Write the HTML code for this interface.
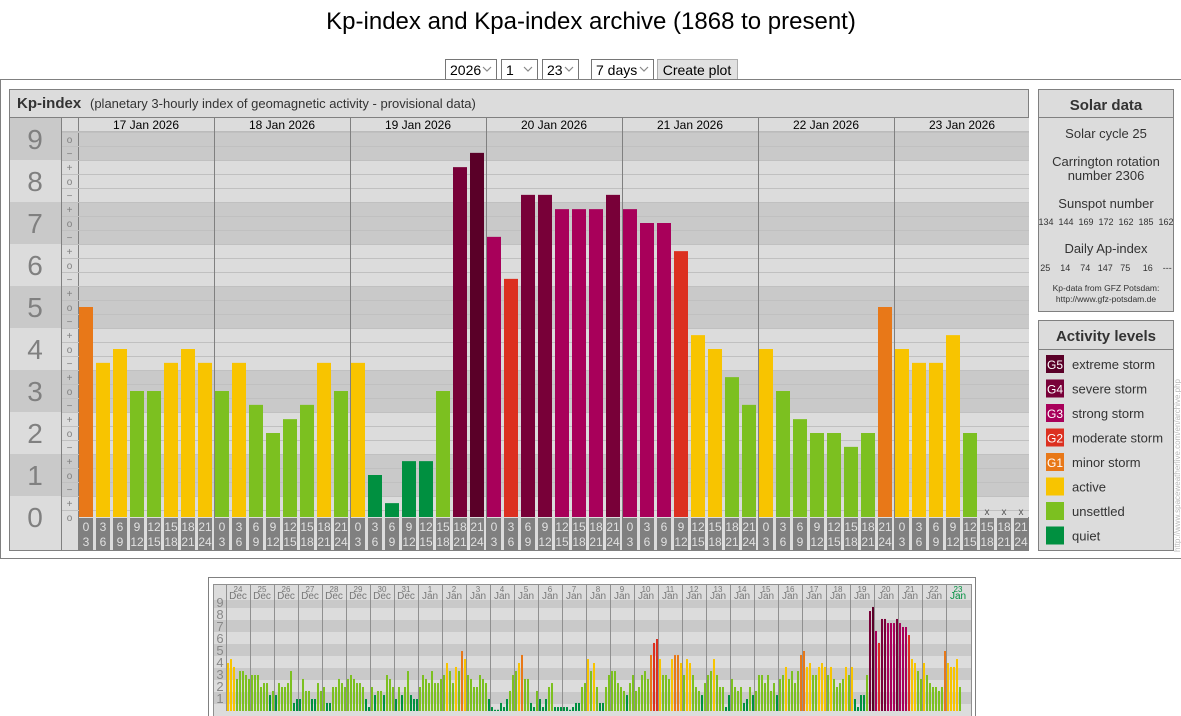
<!DOCTYPE html>
<html><head><meta charset="utf-8"><style>
html,body{margin:0;padding:0;background:#fff;width:1181px;height:716px;overflow:hidden}
svg{position:absolute;left:0;top:0}
text{font-family:"Liberation Sans",Arial,sans-serif}
</style></head><body>
<svg id="s" width="1181" height="716" xmlns="http://www.w3.org/2000/svg"></svg>
<script>
(function(){
var o=[];
function R(x,yy,w,h,f,s){o.push('<rect x="'+x+'" y="'+yy+'" width="'+w+'" height="'+h+'" fill="'+(f||'none')+'"'+(s?' stroke="'+s+'"':'')+'/>');}
function L(x1,y1,x2,y2,c){o.push('<line x1="'+x1+'" y1="'+y1+'" x2="'+x2+'" y2="'+y2+'" stroke="'+c+'" stroke-width="1"/>');}
function T(x,yy,t,sz,c,a,w,extra){o.push('<text x="'+x+'" y="'+yy+'" font-size="'+sz+'" fill="'+(c||'#000')+'" text-anchor="'+(a||'start')+'"'+(w?' font-weight="bold"':'')+(extra||'')+'>'+t+'</text>');}
function col(k){var r=Math.round(k);return r<=1?'#009040':r<=3?'#7cc020':r==4?'#f8c400':r==5?'#e87818':r==6?'#dc3020':r==7?'#a8005a':r==8?'#780038':'#5a0028';}
var DK='#c9c9c9',LT='#dcdcdc';
T(591,29,'Kp-index and Kpa-index archive (1868 to present)',24,'#000','middle');
function sel(x,w,t){R(x+.5,59.5,w,20,'#fff','#767676');T(x+5,75,t,14,'#000');o.push('<path d="M'+(x+w-13)+' 67 l4 4 l4 -4" fill="none" stroke="#888" stroke-width="1.2"/>');}
sel(445,51,'2026');sel(501,36,'1');sel(542,36,'23');sel(591,62,'7 days');
R(657.5,59.5,80,20,'#e1e1e1','#adadad');T(697,75,'Create plot',14,'#000','middle');
R(0.5,79.5,1190,479,'#fff','#808080');
R(9.5,89.5,1019,461,LT,'#808080');
L(9,117.5,1029,117.5,'#808080');
T(17,108,'Kp-index',15,'#333','start',1);
T(90,108,'(planetary 3-hourly index of geomagnetic activity - provisional data)',13,'#333');
function y(k){return 517-42*k;}
for(var Lv=0;Lv<=9;Lv++){
  var tp=y(Lv+0.5),bt=y(Lv-0.5);var c=(Lv%2==1)?DK:LT;
  var lt=Lv==9?118:tp,lb=Lv==0?550:bt;
  R(10,lt,51,lb-lt,c);
  var pt=Lv==9?131:tp,pb=Lv==0?517:bt;
  R(62,pt,967,pb-pt,c);
  T(35,y(Lv)+10,String(Lv),28,'#808080','middle');
}
R(62,118,967,13,LT);
L(61.5,118,61.5,550,'#808080');L(78.5,118,78.5,550,'#808080');
L(62,131.5,1029,131.5,'#bbb');
for(var k=0;k<=27;k++){var kv=k/3;var yy=y(kv);
  var s=k%3==0?'o':k%3==1?'+':'−';
  if(yy>=132)T(69.5,yy+4,s,10,'#808080','middle');
  var ly=Math.round(y(kv+1/6))+0.5; if(ly>132&&ly<517)L(62,ly,1029,ly,'#c0c0c0');
}
var days=['17','18','19','20','21','22','23'];
var data=[[5,3.67,4,3,3,3.67,4,3.67],[3,3.67,2.67,2,2.33,2.67,3.67,3],[3.67,1,0.33,1.33,1.33,3,8.33,8.67],[6.67,5.67,7.67,7.67,7.33,7.33,7.33,7.67],[7.33,7,7,6.33,4.33,4,3.33,2.67],[4,3,2.33,2,2,1.67,2,5],[4,3.67,3.67,4.33,2]];
var hrs=['0','3','6','9','12','15','18','21','24'];
for(var d=0;d<7;d++){var x0=78+136*d;
  if(d>0)L(x0+.5,118,x0+.5,550,'#808080');
  T(x0+68,129,days[d]+' Jan 2026',12,'#000','middle');
  for(var i=0;i<8;i++){var bx=79+136*d+17*i;
    var v=data[d][i];
    if(v!==undefined){var h=42*v;R(bx,517-h,14,h,col(v));}
    else T(bx+7,515,'x',10,'#555','middle');
    R(bx,518,14,32,'#808080');
    T(bx+7,531,hrs[i],12,'#e0e0e0','middle');T(bx+7,546,hrs[i+1],12,'#e0e0e0','middle');
  }
}
R(1038.5,89.5,135,222,LT,'#808080');L(1038,117.5,1174,117.5,'#808080');
var cx=1106;
T(cx,110,'Solar data',15,'#333','middle',1);
T(cx,138,'Solar cycle 25',13,'#333','middle');
T(cx,166,'Carrington rotation',13,'#333','middle');T(cx,180,'number 2306',13,'#333','middle');
T(cx,208,'Sunspot number',13,'#333','middle');
T(cx,225,'134  144  169  172  162  185  162',9,'#333','middle','',' xml:space="preserve"');
T(cx,253,'Daily Ap-index',13,'#333','middle');
T(cx,271,'25    14    74   147   75     16    ---',9,'#333','middle','',' xml:space="preserve"');
T(cx,291,'Kp-data from GFZ Potsdam:',8.5,'#333','middle');T(cx,302,'http://www.gfz-potsdam.de',8.5,'#333','middle');
R(1038.5,320.5,135,230,LT,'#808080');L(1038,349.5,1174,349.5,'#808080');
T(cx,341,'Activity levels',15,'#333','middle',1);
var lv=[['G5','extreme storm','#5a0028'],['G4','severe storm','#780038'],['G3','strong storm','#a8005a'],['G2','moderate storm','#dc3020'],['G1','minor storm','#e87818'],['','active','#f8c400'],['','unsettled','#7cc020'],['','quiet','#009040']];
for(var j=0;j<8;j++){var yc=364+24.5*j;R(1046,yc-9,18,18,lv[j][2]);if(lv[j][0])T(1055,yc+5,lv[j][0],12,'#fff','middle');T(1072,yc+5,lv[j][1],13,'#333');}
T(0,0,'http://www.spaceweatherlive.com/en/archive.php',8,'#bbb','start','',' transform="translate(1180,552) rotate(-90)"');
R(208.5,577.5,767,150,'#fff','#808080');
R(213.5,584.5,758,140,LT,'#909090');
var mb=[[600,608,9],[608,620,8],[620,632,7],[632,644,6],[644,656,5],[656,668,4],[668,680,3],[680,692,2],[692,704,1],[704,711,0]];
mb.forEach(function(b){R(214,b[0],757,b[1]-b[0],b[2]%2?DK:LT);if(b[2]>0)T(220,b[2]==9?607:(b[0]+b[1])/2+5,String(b[2]),13,'#888','middle');});
R(214,711,757,13,LT);
L(226.5,585,226.5,711,'#909090');
var mdata=[[4,4.33,3.67,2.67,3.33,3.33,3,2.67],[3,3,3,2,2.33,2.33,1.33,1.67],[1.33,2.33,2,2,2.33,3.33,0.67,1],[1,2.67,1.67,1.67,1,1,2.33,1.67],[2,0.67,0.67,2,2,2.67,2.33,2],[2.67,3,2.67,2.33,2.33,2,1,0.33],[2,1.33,1.67,1.67,1.33,3,2.67,2],[1,2,1.33,2,3.33,1.33,1,1],[2,3,2.67,2.33,3.33,2.33,2.33,2.67],[3,4,3.33,2.33,3.67,3.33,5,4.33],[3,2.67,2,2,3,2.67,2.33,1],[0.33,0.1,0.1,0.67,0.33,1,1.67,3],[3.33,4,4.67,2.67,2.67,0.67,0.33,1.67],[1,0.33,1,2,2.33,0.33,0.33,0.33],[0.33,0.33,0.1,0.33,0.67,0.67,2,2.33],[4.33,3.33,4,2,0.67,0.67,2,3],[3.33,3.33,2.33,2,1.67,1.33,2.33,3],[1.67,2,3,3.33,2.67,4.67,5.67,6],[4.33,3,3,2.67,4.33,4.67,4.67,4],[3,4.33,4,3,2,1.67,1.33,2.33],[3,3.33,4.33,3,2,2,0.33,1.33],[2.67,2,1.67,2,0.67,1,2,1.33],[1.67,3,3,2.33,3,1.67,2.33,1.33],[2.67,3,3.67,2.67,3.33,2.33,3.33,4.67]];
mdata=mdata.concat(data);
var dl=['24','25','26','27','28','29','30','31'];for(var q=1;q<=23;q++)dl.push(String(q));
for(var d2=0;d2<31;d2++){var xx=226+24*d2;
  if(d2>0)L(xx+.5,585,xx+.5,711,'#909090');
  var gc=d2==30?'#009040':'#777';
  T(xx+12,592,dl[d2],8,gc,'middle');T(xx+12,599,d2<8?'Dec':'Jan',10,gc,'middle');
  var dd=mdata[d2];for(var i2=0;i2<dd.length;i2++){var v2=dd[i2];var h2=12*v2;R(xx+1+3*i2,711-h2,2,h2,col(v2));}
}
document.getElementById('s').innerHTML=o.join('');
})();
</script>
</body></html>
